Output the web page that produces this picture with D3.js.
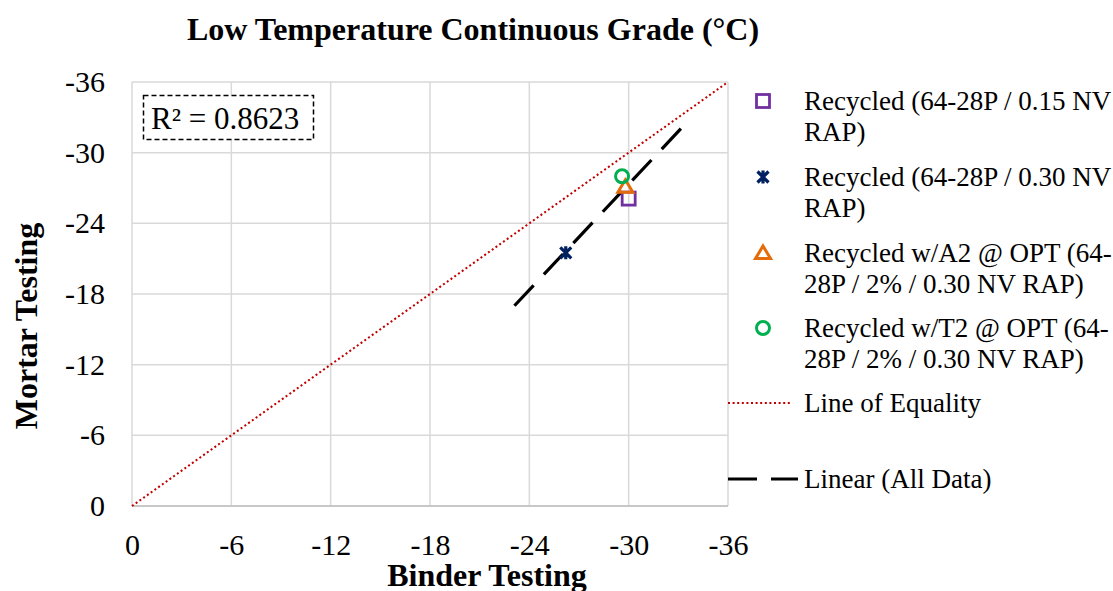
<!DOCTYPE html>
<html>
<head>
<meta charset="utf-8">
<script src="https://cdn.jsdelivr.net/npm/d3@7"></script>
<style>
  html, body { margin: 0; padding: 0; background: #fff; }
  text { font-family: "Liberation Serif", "Times New Roman", serif; fill: #000; }
</style>
</head>
<body>
<svg id="chart" width="1113" height="591"></svg>
<script>
// Low temperature continuous grade: binder vs mortar testing (°C)
const seriesNames = [
  "Recycled (64-28P / 0.15 NV RAP)",
  "Recycled (64-28P / 0.30 NV RAP)",
  "Recycled w/A2 @ OPT (64-28P / 2% / 0.30 NV RAP)",
  "Recycled w/T2 @ OPT (64-28P / 2% / 0.30 NV RAP)"
];
const legendLines = [
  ["Recycled (64-28P / 0.15 NV", "RAP)"],
  ["Recycled (64-28P / 0.30 NV", "RAP)"],
  ["Recycled w/A2 @ OPT (64-", "28P / 2% / 0.30 NV RAP)"],
  ["Recycled w/T2 @ OPT (64-", "28P / 2% / 0.30 NV RAP)"]
];
const binderValues = [-30.0, -26.2, -29.8, -29.6];
const mortarValues = [-26.1, -21.5, -27.1, -28.0];
const markerShapes = ["square", "cross", "triangle", "circle"];
const markerColors = ["#7030a0", "#002060", "#e46c0a", "#00b050"];
const tickValues = [0, -6, -12, -18, -24, -30, -36];
const tickLabels = ["0", "-6", "-12", "-18", "-24", "-30", "-36"];
const equalityLine = [0, -36];
const trendExtent = [-23.1, -33.2];
const rSquaredLabel = "R² = 0.8623";

const svg = d3.select("#chart");
const x = d3.scaleLinear().domain([0, -36]).range([132, 728]);
const y = d3.scaleLinear().domain([0, -36]).range([506, 82]);
const tickText = d => tickLabels[tickValues.indexOf(d)];

// gridlines
const grid = svg.append("g");
grid.selectAll("line.v").data(tickValues).join("line")
  .attr("x1", d => x(d)).attr("x2", d => x(d))
  .attr("y1", y(-36)).attr("y2", y(0))
  .attr("stroke", "#d9d9d9").attr("stroke-width", 1.5);
grid.selectAll("line.h").data(tickValues).join("line")
  .attr("x1", x(0)).attr("x2", x(-36))
  .attr("y1", d => y(d)).attr("y2", d => y(d))
  .attr("stroke", "#d9d9d9").attr("stroke-width", 1.5);
// bottom axis line
svg.append("line").attr("x1", x(0)).attr("x2", x(-36)).attr("y1", y(0)).attr("y2", y(0))
  .attr("stroke", "#bfbfbf").attr("stroke-width", 1.5);

// axes via d3
const xAxis = svg.append("g").attr("transform", `translate(0,${y(0)})`)
  .call(d3.axisBottom(x).tickValues(tickValues).tickSize(0).tickPadding(28).tickFormat(tickText));
xAxis.select(".domain").remove();
xAxis.selectAll("text").style("font-size", "30px").attr("font-family", "Liberation Serif");

const yAxis = svg.append("g").attr("transform", `translate(${x(0)},0)`)
  .call(d3.axisLeft(y).tickValues(tickValues).tickSize(0).tickPadding(27).tickFormat(tickText));
yAxis.select(".domain").remove();
yAxis.selectAll("text").style("font-size", "30px").attr("font-family", "Liberation Serif");

// line of equality
svg.append("line")
  .attr("x1", x(equalityLine[0])).attr("y1", y(equalityLine[0]))
  .attr("x2", x(equalityLine[1])).attr("y2", y(equalityLine[1]))
  .attr("stroke", "#c00000").attr("stroke-width", 2).attr("stroke-dasharray", "2 2.6");

// least-squares trendline over all points
const mx = d3.mean(binderValues), my = d3.mean(mortarValues);
const sxy = d3.sum(binderValues, (v, i) => (v - mx) * (mortarValues[i] - my));
const sxx = d3.sum(binderValues, v => (v - mx) ** 2);
const slope = sxy / sxx;
const fit = v => my + slope * (v - mx);
svg.append("line")
  .attr("x1", x(trendExtent[0])).attr("y1", y(fit(trendExtent[0])))
  .attr("x2", x(trendExtent[1])).attr("y2", y(fit(trendExtent[1])))
  .attr("stroke", "#000").attr("stroke-width", 3.2).attr("stroke-dasharray", "28 15");

// marker drawing
function drawMarker(g, shape, color, cx, cy) {
  if (shape === "square") {
    g.append("rect").attr("x", cx - 6.5).attr("y", cy - 6.5).attr("width", 13).attr("height", 13)
      .attr("fill", "none").attr("stroke", color).attr("stroke-width", 2.8);
  } else if (shape === "cross") {
    const s = 5.5;
    g.append("path").attr("d", `M${cx - s},${cy - s}L${cx + s},${cy + s}M${cx - s},${cy + s}L${cx + s},${cy - s}M${cx},${cy - s - 1}L${cx},${cy + s + 1}`)
      .attr("stroke", color).attr("stroke-width", 3.2).attr("fill", "none");
  } else if (shape === "triangle") {
    g.append("path").attr("d", `M${cx},${cy - 7}L${cx + 7.5},${cy + 5.5}L${cx - 7.5},${cy + 5.5}Z`)
      .attr("fill", "none").attr("stroke", color).attr("stroke-width", 3).attr("stroke-linejoin", "miter");
  } else {
    g.append("circle").attr("cx", cx).attr("cy", cy).attr("r", 6.5)
      .attr("fill", "none").attr("stroke", color).attr("stroke-width", 3);
  }
}

const pts = svg.append("g");
binderValues.forEach((b, i) => drawMarker(pts, markerShapes[i], markerColors[i], x(b), y(mortarValues[i])));

// R² annotation
svg.append("rect").attr("x", 143.5).attr("y", 95.5).attr("width", 170).attr("height", 44)
  .attr("fill", "#fff").attr("stroke", "#000").attr("stroke-width", 1.5).attr("stroke-dasharray", "5 3");
svg.append("text").attr("x", 151).attr("y", 129).style("font-size", "31px").text(rSquaredLabel);

// title and axis titles
svg.append("text").attr("x", 473).attr("y", 40).attr("text-anchor", "middle")
  .style("font-size", "32px").style("font-weight", "bold").text("Low Temperature Continuous Grade (°C)");
svg.append("text").attr("x", 487).attr("y", 586).attr("text-anchor", "middle")
  .style("font-size", "32px").style("font-weight", "bold").text("Binder Testing");
svg.append("text").attr("transform", "translate(37,326) rotate(-90)").attr("text-anchor", "middle")
  .style("font-size", "32px").style("font-weight", "bold").text("Mortar Testing");

// legend
const legend = svg.append("g");
const legendTop = [101, 177, 253, 328];
seriesNames.forEach((name, i) => {
  drawMarker(legend, markerShapes[i], markerColors[i], 763, legendTop[i]);
  const t = legend.append("text").attr("x", 804).attr("y", legendTop[i] + 9).style("font-size", "27px");
  legendLines[i].forEach((ln, j) => t.append("tspan").attr("x", 804).attr("dy", j === 0 ? 0 : 30.5).text(ln));
});
legend.append("line").attr("x1", 728).attr("x2", 792).attr("y1", 403).attr("y2", 403)
  .attr("stroke", "#c00000").attr("stroke-width", 2).attr("stroke-dasharray", "2 2.6");
legend.append("text").attr("x", 804).attr("y", 412).style("font-size", "27px").text("Line of Equality");
legend.append("line").attr("x1", 728).attr("x2", 798).attr("y1", 479).attr("y2", 479)
  .attr("stroke", "#000").attr("stroke-width", 3.2).attr("stroke-dasharray", "29 14");
legend.append("text").attr("x", 804).attr("y", 488).style("font-size", "27px").text("Linear (All Data)");
</script>
</body>
</html>
